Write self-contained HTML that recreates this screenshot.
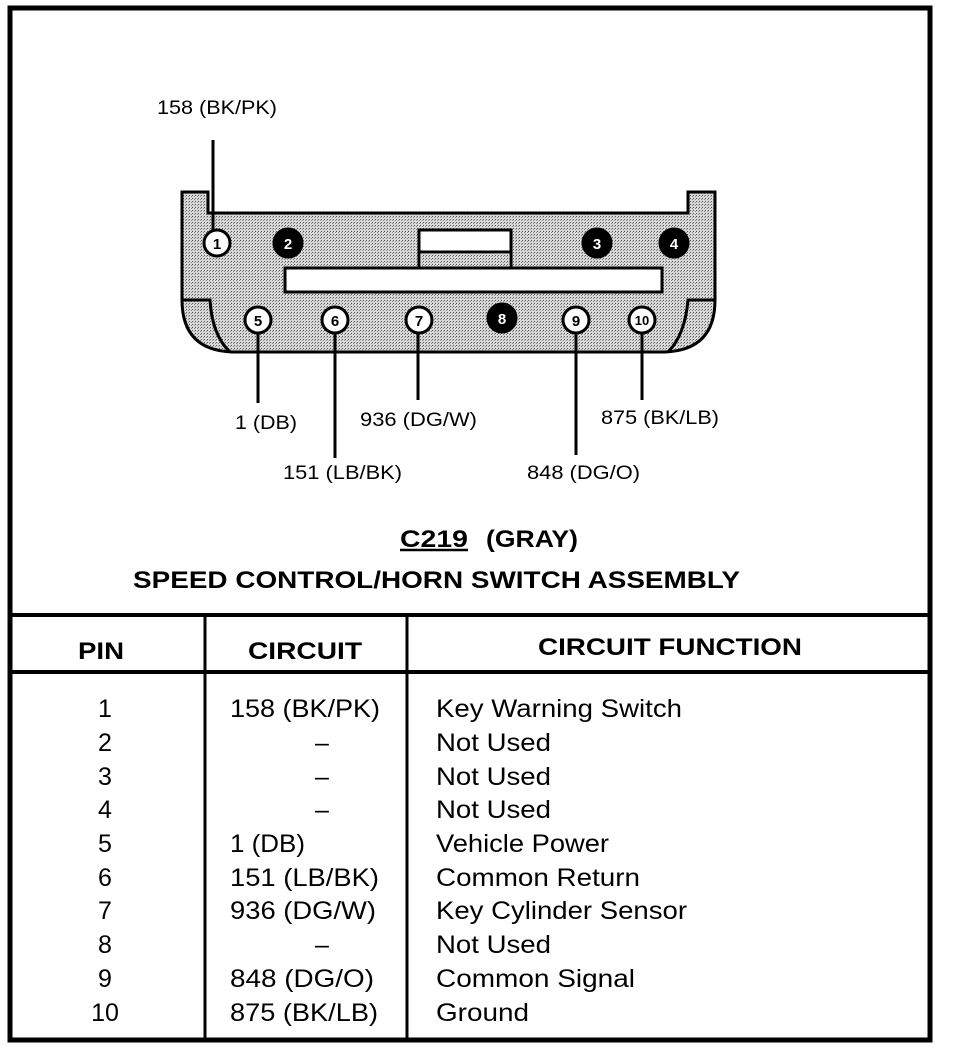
<!DOCTYPE html>
<html><head><meta charset="utf-8"><style>
body{margin:0;background:#fff}
svg{display:block}
text{font-family:"Liberation Sans",Arial,sans-serif;fill:#000}
</style></head><body>
<svg width="960" height="1050" viewBox="0 0 960 1050">
<defs>
<pattern id="dots" width="3" height="3" patternUnits="userSpaceOnUse">
<rect width="3" height="3" fill="#d8d8d8"/><rect width="1" height="1" fill="#555"/><rect x="2" y="1" width="1" height="1" fill="#888"/>
</pattern>
</defs>
<rect x="10" y="8" width="920" height="1032" fill="none" stroke="#000" stroke-width="5"/>
<line x1="10" y1="615" x2="930" y2="615" stroke="#000" stroke-width="4"/>
<line x1="10" y1="672" x2="930" y2="672" stroke="#000" stroke-width="4"/>
<line x1="205" y1="615" x2="205" y2="1040" stroke="#000" stroke-width="3"/>
<line x1="407" y1="615" x2="407" y2="1040" stroke="#000" stroke-width="3"/>

<path d="M182,192 H208 V213 H688 V192 H715 V300 Q715,350 665,352 H232 Q182,350 182,300 Z" fill="url(#dots)" stroke="#000" stroke-width="3"/>
<path d="M182,300 H210 Q212,335 230,352" fill="none" stroke="#000" stroke-width="3"/>
<path d="M715,300 H688 Q685,335 668,352" fill="none" stroke="#000" stroke-width="3"/>
<rect x="419" y="230" width="92" height="38" fill="#fff" stroke="#000" stroke-width="3"/>
<rect x="421" y="254" width="88" height="13" fill="url(#dots)"/>
<line x1="419" y1="252" x2="511" y2="252" stroke="#000" stroke-width="3"/>
<rect x="285" y="268" width="377" height="24" fill="#fff" stroke="#000" stroke-width="3"/>

<g stroke="#000" stroke-width="3">
<line x1="213" y1="140" x2="213" y2="232"/>
<line x1="258" y1="333" x2="258" y2="403"/>
<line x1="335" y1="333" x2="335" y2="458"/>
<line x1="418" y1="333" x2="418" y2="400"/>
<line x1="576" y1="333" x2="576" y2="455"/>
<line x1="642" y1="333" x2="642" y2="400"/>
</g>

<g stroke="#000" stroke-width="3" font-weight="bold" font-size="15" text-anchor="middle">
<circle cx="217" cy="243" r="13" fill="#fff"/><text x="217" y="249" stroke="none">1</text>
<circle cx="288" cy="243" r="14" fill="#000"/><text x="288" y="249" stroke="none" style="fill:#fff">2</text>
<circle cx="597" cy="243" r="14" fill="#000"/><text x="597" y="249" stroke="none" style="fill:#fff">3</text>
<circle cx="674" cy="243" r="14" fill="#000"/><text x="674" y="249" stroke="none" style="fill:#fff">4</text>
<circle cx="258" cy="320" r="13" fill="#fff"/><text x="258" y="326" stroke="none">5</text>
<circle cx="335" cy="320" r="13" fill="#fff"/><text x="335" y="326" stroke="none">6</text>
<circle cx="419" cy="320" r="13" fill="#fff"/><text x="419" y="326" stroke="none">7</text>
<circle cx="502" cy="318" r="14" fill="#000"/><text x="502" y="324" stroke="none" style="fill:#fff">8</text>
<circle cx="576" cy="320" r="13" fill="#fff"/><text x="576" y="326" stroke="none">9</text>
<circle cx="642" cy="320" r="13" fill="#fff"/><text x="642" y="325" stroke="none" font-size="13">10</text>
</g>

<g font-size="19" lengthAdjust="spacingAndGlyphs">
<text x="157" y="114" textLength="120" lengthAdjust="spacingAndGlyphs">158 (BK/PK)</text>
<text x="235" y="429" textLength="62" lengthAdjust="spacingAndGlyphs">1 (DB)</text>
<text x="283" y="479" textLength="119" lengthAdjust="spacingAndGlyphs">151 (LB/BK)</text>
<text x="360" y="426" textLength="117" lengthAdjust="spacingAndGlyphs">936 (DG/W)</text>
<text x="527" y="479" textLength="113" lengthAdjust="spacingAndGlyphs">848 (DG/O)</text>
<text x="601" y="424" textLength="118" lengthAdjust="spacingAndGlyphs">875 (BK/LB)</text>
</g>

<text x="400" y="547" font-size="24" font-weight="bold" textLength="68" lengthAdjust="spacingAndGlyphs">C219</text>
<text x="486" y="547" font-size="24" font-weight="bold" textLength="92" lengthAdjust="spacingAndGlyphs">(GRAY)</text>
<line x1="400" y1="550" x2="468" y2="550" stroke="#000" stroke-width="2.5"/>
<text x="133" y="588" font-size="24" font-weight="bold" textLength="607" lengthAdjust="spacingAndGlyphs">SPEED CONTROL/HORN SWITCH ASSEMBLY</text>

<g font-size="24" font-weight="bold">
<text x="78" y="659" textLength="46" lengthAdjust="spacingAndGlyphs">PIN</text>
<text x="248" y="659" textLength="114" lengthAdjust="spacingAndGlyphs">CIRCUIT</text>
<text x="538" y="655" textLength="264" lengthAdjust="spacingAndGlyphs">CIRCUIT FUNCTION</text>
</g>

<g font-size="25">
<g text-anchor="middle">
<text x="105" y="717">1</text><text x="105" y="751">2</text><text x="105" y="785">3</text>
<text x="105" y="818">4</text><text x="105" y="852">5</text><text x="105" y="886">6</text>
<text x="105" y="919">7</text><text x="105" y="953">8</text><text x="105" y="987">9</text>
<text x="105" y="1021">10</text>
<text x="322" y="751">–</text><text x="322" y="785">–</text><text x="322" y="818">–</text><text x="322" y="953">–</text>
</g>
<text x="230" y="717" textLength="150" lengthAdjust="spacingAndGlyphs">158 (BK/PK)</text>
<text x="230" y="852" textLength="75" lengthAdjust="spacingAndGlyphs">1 (DB)</text>
<text x="230" y="886" textLength="149" lengthAdjust="spacingAndGlyphs">151 (LB/BK)</text>
<text x="230" y="919" textLength="146" lengthAdjust="spacingAndGlyphs">936 (DG/W)</text>
<text x="230" y="987" textLength="144" lengthAdjust="spacingAndGlyphs">848 (DG/O)</text>
<text x="230" y="1021" textLength="148" lengthAdjust="spacingAndGlyphs">875 (BK/LB)</text>
<text x="436" y="717" textLength="246" lengthAdjust="spacingAndGlyphs">Key Warning Switch</text>
<text x="436" y="751" textLength="115" lengthAdjust="spacingAndGlyphs">Not Used</text>
<text x="436" y="785" textLength="115" lengthAdjust="spacingAndGlyphs">Not Used</text>
<text x="436" y="818" textLength="115" lengthAdjust="spacingAndGlyphs">Not Used</text>
<text x="436" y="852" textLength="173" lengthAdjust="spacingAndGlyphs">Vehicle Power</text>
<text x="436" y="886" textLength="204" lengthAdjust="spacingAndGlyphs">Common Return</text>
<text x="436" y="919" textLength="251" lengthAdjust="spacingAndGlyphs">Key Cylinder Sensor</text>
<text x="436" y="953" textLength="115" lengthAdjust="spacingAndGlyphs">Not Used</text>
<text x="436" y="987" textLength="199" lengthAdjust="spacingAndGlyphs">Common Signal</text>
<text x="436" y="1021" textLength="93" lengthAdjust="spacingAndGlyphs">Ground</text>
</g>
</svg>
</body></html>
